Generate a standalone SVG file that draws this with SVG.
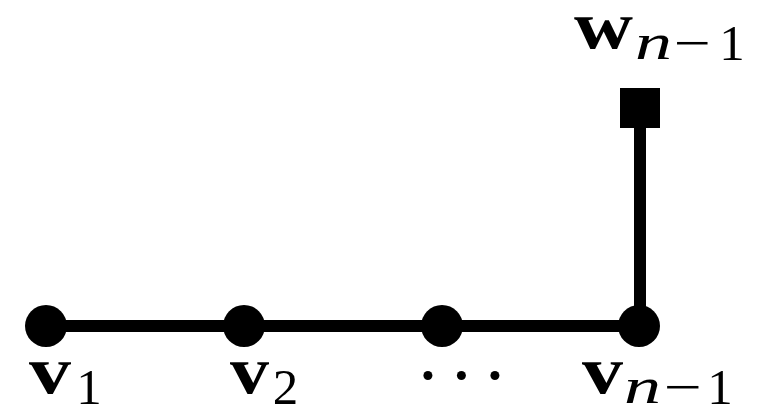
<svg xmlns="http://www.w3.org/2000/svg" width="766" height="409" viewBox="0 0 766 409">
<style>
.edge{stroke:#000;stroke-width:12;fill:none}
.node{fill:#000}
text{font-family:'Liberation Serif',serif;fill:#000}
.b{font-weight:bold;font-size:68px}
.s{font-size:51px}
.i{font-style:italic;font-size:51px}
.d{font-size:76px}
</style>
<rect width="766" height="409" fill="#fff"/>
<g id="connectors">
<line class="edge" x1="47" y1="326" x2="640" y2="326"/>
<line class="edge" x1="640" y1="326" x2="640" y2="108"/>
</g>
<g id="v1">
<circle class="node" cx="46" cy="326" r="21"/>
<text class="b" x="29" y="393" textLength="42" lengthAdjust="spacingAndGlyphs">v</text>
<text class="s" x="89" y="404" text-anchor="middle">1</text>
</g>
<g id="v2">
<circle class="node" cx="244" cy="326" r="21"/>
<text class="b" x="230" y="393" textLength="39" lengthAdjust="spacingAndGlyphs">v</text>
<text class="s" x="285.5" y="404" text-anchor="middle">2</text>
</g>
<g id="v3">
<circle class="node" cx="442" cy="326" r="21"/>
<text class="d" x="428 461.5 495" y="401" text-anchor="middle">···</text>
</g>
<g id="vn1">
<circle class="node" cx="639" cy="326" r="21"/>
<text class="b" x="582" y="393" textLength="41" lengthAdjust="spacingAndGlyphs">v</text>
<text class="i" x="624" y="403" textLength="37" lengthAdjust="spacingAndGlyphs">n</text>
<text class="s" x="664" y="404" textLength="38" lengthAdjust="spacingAndGlyphs">−</text>
<text class="s" x="720" y="404" text-anchor="middle">1</text>
</g>
<g id="wn1">
<rect class="node" x="620" y="88" width="40" height="40"/>
<text class="b" x="574" y="48" textLength="59" lengthAdjust="spacingAndGlyphs">w</text>
<text class="i" x="635" y="59" textLength="37" lengthAdjust="spacingAndGlyphs">n</text>
<text class="s" x="674" y="60" textLength="37" lengthAdjust="spacingAndGlyphs">−</text>
<text class="s" x="732" y="60" text-anchor="middle">1</text>
</g>
</svg>
